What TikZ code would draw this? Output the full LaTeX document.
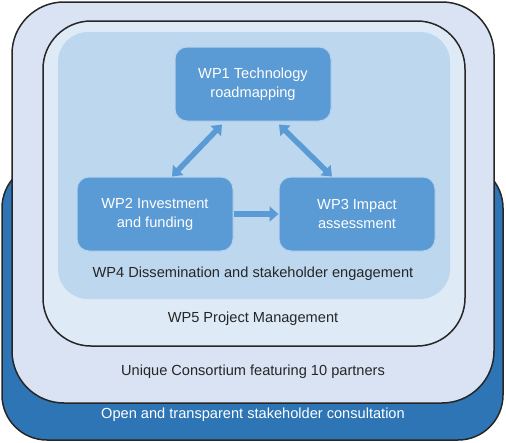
\documentclass[tikz,border=0pt]{standalone}
\usepackage{fontspec}
\setmainfont{Liberation Sans}
\usepackage{tikz}
\usetikzlibrary{arrows.meta, positioning}

\definecolor{outerblue}{HTML}{2E75B6}
\definecolor{consfill}{HTML}{DAE3F3}
\definecolor{wpfivefill}{HTML}{DEEBF7}
\definecolor{wpfourfill}{HTML}{BDD7EE}
\definecolor{boxblue}{HTML}{5B9BD5}
\definecolor{textgray}{HTML}{262626}

\tikzset{
	layer/.style={draw=black!85, line width=1.5pt},
	label/.style={font=\fontsize{14.6}{19}\selectfont, text=textgray},
	wpbox/.style={draw=white!55!boxblue, line width=1pt, fill=boxblue, rounded corners=12,
		minimum width=156, minimum height=74, align=center, text=white,
		font=\fontsize{14.6}{19}\selectfont},
	link/.style={boxblue, line width=5.5pt},
	twoway/.style={link, {Triangle[width=14pt,length=9pt]}-{Triangle[width=14pt,length=9pt]}},
	oneway/.style={link, -{Triangle[width=15pt,length=9pt]}}
}

\begin{document}
\begin{tikzpicture}[x=1pt, y=-1pt]
	\useasboundingbox (0,0) rectangle (506,442);
	
	% Layers
	\draw[layer, fill=outerblue, rounded corners=45] (2,163) rectangle (503,440);
	\draw[layer, fill=consfill, rounded corners=52] (12,2) rectangle (494,403);
	\draw[layer, fill=wpfivefill, rounded corners=48] (43,21) rectangle (465,346);
	\fill[wpfourfill, rounded corners=30] (58,32) rectangle (450,299);
	
	% Layer labels
	\node[label, text=white] (open) at (253,415) {Open and transparent stakeholder consultation};
	\node[label] (consortium) at (253,372) {Unique Consortium featuring 10 partners};
	\node[label] (wpfive) at (253,319) {WP5 Project Management};
	\node[label] (wpfour) at (253,274) {WP4 Dissemination and stakeholder engagement};
	
	% Work packages
	\node[wpbox] (wpone) at (253,84) {WP1 Technology\\roadmapping};
	\node[wpbox] (wptwo) at (155,214) {WP2 Investment\\and funding};
	\node[wpbox] (wpthree) at (357,214) {WP3 Impact\\assessment};
	
	% Links
	\draw[twoway] ([xshift=-31, yshift=-3]wpone.south) -- ([xshift=17]wptwo.north);
	\draw[twoway] ([xshift=26, yshift=-3]wpone.south) -- ([xshift=-25]wpthree.north);
	\draw[oneway] (wptwo.east) -- (wpthree.west);
	
\end{tikzpicture}
\end{document}
